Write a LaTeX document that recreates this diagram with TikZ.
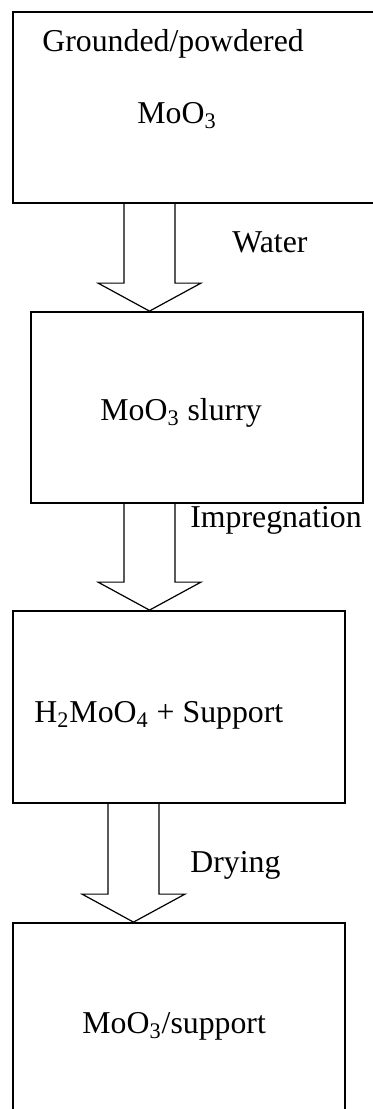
\documentclass[tikz,border=0pt]{standalone}
\usepackage{fontspec}
\setmainfont{Liberation Serif}
\usetikzlibrary{calc}
\begin{document}
\begin{tikzpicture}[x=0.5pt,y=-0.5pt,
  box/.style={draw,line width=0.9pt,minimum width=#1,inner sep=0pt},
  lbl/.style={anchor=base west,inner sep=0pt,font=\fontsize{15.9}{18}\selectfont},
  blk/.style={draw,line width=0.6pt,line join=miter}]
\useasboundingbox (0,0) rectangle (373,1109);
\clip (0,0) rectangle (373,1109);
\fill[white] (0,0) rectangle (373,1109);

% process boxes
\node[box=191pt,minimum height=95.5pt] (b1) at (204,107.5) {};
\node[box=166pt,minimum height=95.5pt] (b2) at (197,407.5) {};
\node[box=166pt,minimum height=96pt]   (b3) at (179,707) {};
\node[box=166pt,minimum height=101pt]  (b4) at (179,1024) {};

% box texts
\node[lbl] (t1a) at (42,51) {Grounded/powdered};
\node[lbl] (t1b) at (137,123) {MoO\textsubscript{3}};
\node[lbl] (t2) at (100,420) {MoO\textsubscript{3} slurry};
\node[lbl] (t3) at (34,722) {H\textsubscript{2}MoO\textsubscript{4} + Support};
\node[lbl] (t4) at (82,1033) {MoO\textsubscript{3}/support};

% step labels
\node[lbl] (s1) at (232,252) {Water};
\node[lbl] (s2) at (190,527) {Impregnation};
\node[lbl] (s3) at (190,872) {Drying};

% hollow block arrows between the boxes
\newcommand\blockarrow[2]{%
  \draw[blk] ($(#1)+(-25.5,0)$) -- ($(#2)+(-25.5,-28)$) -- ($(#2)+(-51.5,-28)$)
    -- (#2) -- ($(#2)+(51.5,-28)$) -- ($(#2)+(25.5,-28)$) -- ($(#1)+(25.5,0)$);}
\coordinate (a1s) at (149.5,0 |- b1.south);
\coordinate (a1e) at (149.5,0 |- b2.north);
\coordinate (a2s) at (149.5,0 |- b2.south);
\coordinate (a2e) at (149.5,0 |- b3.north);
\coordinate (a3s) at (133.5,0 |- b3.south);
\coordinate (a3e) at (133.5,0 |- b4.north);
\blockarrow{a1s}{a1e}
\blockarrow{a2s}{a2e}
\blockarrow{a3s}{a3e}
\end{tikzpicture}
\end{document}
